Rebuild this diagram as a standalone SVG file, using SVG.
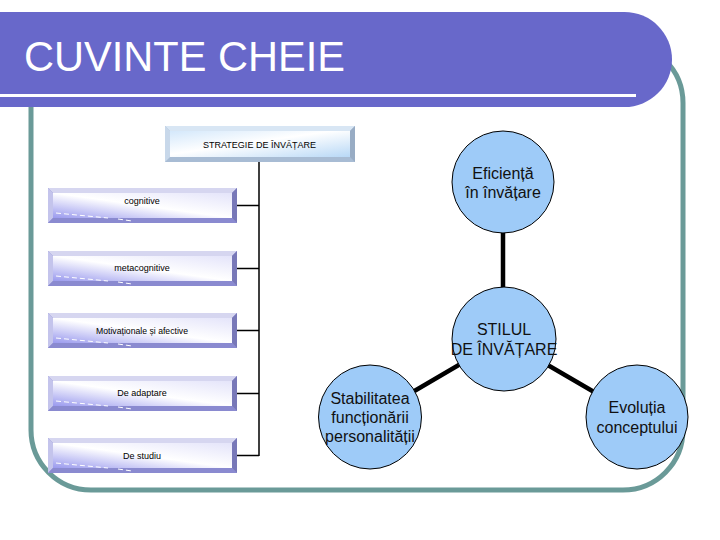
<svg xmlns="http://www.w3.org/2000/svg" width="720" height="540" viewBox="0 0 720 540">
<defs>
<linearGradient id="faceP" x1="0" y1="1" x2="1" y2="0">
<stop offset="0" stop-color="#9a9aee"/>
<stop offset="0.5" stop-color="#ffffff"/>
<stop offset="1" stop-color="#e4e4fa"/>
</linearGradient>
<linearGradient id="faceB" x1="0" y1="0" x2="1" y2="1">
<stop offset="0" stop-color="#d4e8fb"/>
<stop offset="0.45" stop-color="#ffffff"/>
<stop offset="1" stop-color="#b8d8f6"/>
</linearGradient>
<g id="boxP">
<rect x="0" y="0" width="189" height="35" fill="#8c8cd0"/>
<polygon points="0,0 189,0 184,5 5,5" fill="#d6d6f0"/>
<polygon points="0,0 5,5 5,30 0,35" fill="#c4c4ec"/>
<polygon points="189,0 189,35 184,30 184,5" fill="#7878b8"/>
<polygon points="0,35 189,35 184,30 5,30" fill="#8a8ad0"/>
<rect x="5" y="5" width="179" height="25" fill="url(#faceP)"/>
<path d="M8,25 L60,30 M70,31 L84,33" stroke="#ffffff" stroke-width="1" stroke-dasharray="5,3" fill="none"/>
</g>
</defs>
<style>
.frame{fill:none;stroke:#6a9a98;stroke-width:5}
.conn{stroke:#000;stroke-width:1.5;fill:none}
.thick{stroke:#000;stroke-width:4.5;fill:none}
.circ{fill:#9ecbf8;stroke:#000;stroke-width:1}
.ct{font-family:"Liberation Sans",Arial,sans-serif;font-size:16px;fill:#111;text-anchor:middle}
.bt{font-family:"Liberation Sans",Arial,sans-serif;font-size:9px;fill:#000;text-anchor:middle}
</style>
<rect width="720" height="540" fill="#ffffff"/>
<rect class="frame" x="31" y="43" width="652" height="447" rx="60" ry="60"/>
<g id="banner">
<rect x="-60" y="12" width="732" height="95" rx="47.5" ry="47.5" fill="#6868ca"/>
<rect x="0" y="94" width="636" height="3" fill="#ffffff"/>
<text x="24" y="71" font-family="'Liberation Sans',Arial,sans-serif" font-size="42" fill="#ffffff" textLength="321" lengthAdjust="spacingAndGlyphs">CUVINTE CHEIE</text>
</g>
<g id="connectors">
<path class="conn" d="M259,161 V456 M237,205.5 H259 M237,268.5 H259 M237,330.5 H259 M237,393.5 H259 M237,455.5 H259"/>
<path class="thick" d="M503,182 V339 M370,417 L503,339 L637,417"/>
</g>
<g id="strategie">
<rect x="165" y="126" width="190" height="36" fill="#a8bcd4"/>
<polygon points="165,126 355,126 350,131 170,131" fill="#d8e6f4"/>
<polygon points="165,126 170,131 170,157 165,162" fill="#c8d8ea"/>
<polygon points="355,126 355,162 350,157 350,131" fill="#98acc4"/>
<rect x="170" y="131" width="180" height="26" fill="url(#faceB)"/>
<text class="bt" x="260" y="148" letter-spacing="1" textLength="114" lengthAdjust="spacing">STRATEGIE DE ÎNVĂȚARE</text>
</g>
<g id="cognitive"><use href="#boxP" x="48" y="188"/><text class="bt" x="142" y="204">cognitive</text></g>
<g id="metacognitive"><use href="#boxP" x="48" y="251"/><text class="bt" x="142" y="271">metacognitive</text></g>
<g id="motivational"><use href="#boxP" x="48" y="313"/><text class="bt" x="142" y="334" textLength="92" lengthAdjust="spacingAndGlyphs">Motivaționale și afective</text></g>
<g id="adaptare"><use href="#boxP" x="48" y="376"/><text class="bt" x="142" y="396">De adaptare</text></g>
<g id="studiu"><use href="#boxP" x="48" y="438"/><text class="bt" x="142" y="459">De studiu</text></g>
<g id="eficienta"><circle class="circ" cx="503" cy="182" r="51"/><text class="ct" x="503" y="179">Eficiență</text><text class="ct" x="503" y="198">în învățare</text></g>
<g id="stilul"><circle class="circ" cx="504" cy="339" r="52"/><text class="ct" x="504" y="335">STILUL</text><text class="ct" x="504" y="355">DE ÎNVĂȚARE</text></g>
<g id="stabilitatea"><ellipse class="circ" cx="370" cy="417" rx="51.5" ry="52"/><text class="ct" x="370" y="404">Stabilitatea</text><text class="ct" x="370" y="423">funcționării</text><text class="ct" x="370" y="442">personalității</text></g>
<g id="evolutia"><ellipse class="circ" cx="637" cy="417" rx="51" ry="52"/><text class="ct" x="637" y="413">Evoluția</text><text class="ct" x="637" y="433">conceptului</text></g>
</svg>
